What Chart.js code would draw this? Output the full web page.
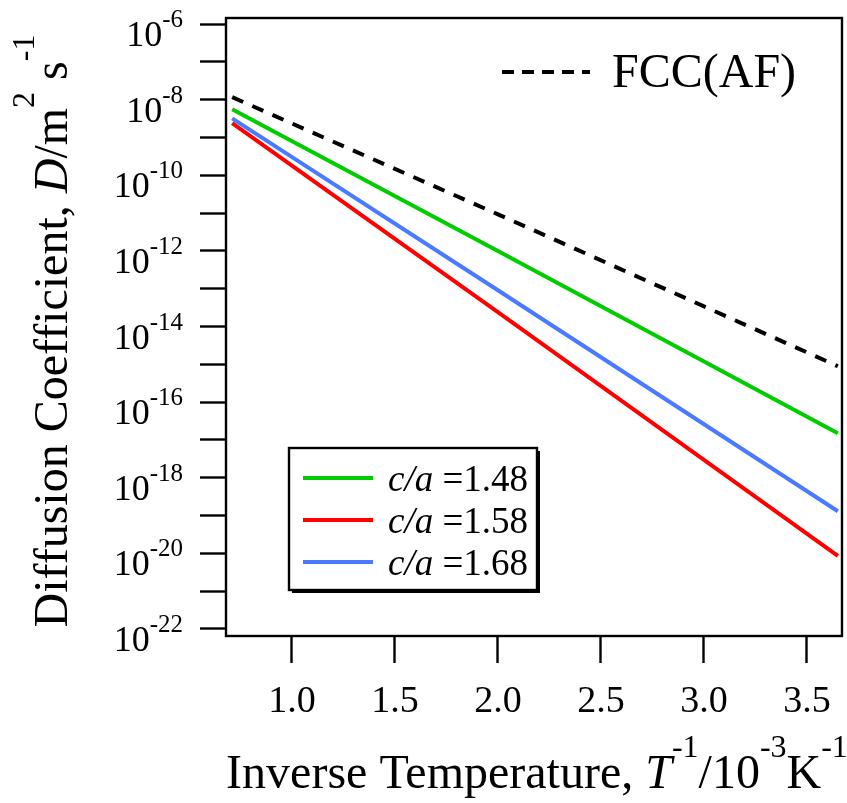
<!DOCTYPE html>
<html>
<head>
<meta charset="utf-8">
<script src="https://cdn.jsdelivr.net/npm/chart.js@4.4.0/dist/chart.umd.min.js"></script>
<style>
  body { margin: 0; background: #fff; }
  canvas { display: block; }
</style>
</head>
<body>
<canvas id="diffChart" width="847" height="803"></canvas>
<script>
// data (T^-1 in 10^-3 K^-1, D in m^2 s^-1)
const invTemp = [0.71, 2.0, 3.65];
const fccAF = [1.17e-8, 9.3e-12, 8.9e-16];
const ca148 = [5.6e-9, 1.0e-12, 1.5e-17];
const ca158 = [2.4e-9, 2.4e-14, 8.5e-21];
const ca168 = [3.2e-9, 9.1e-14, 1.3e-19];

const xTicks = [1.0, 1.5, 2.0, 2.5, 3.0, 3.5];
const yExponents = [-22, -21, -20, -19, -18, -17, -16, -15, -14, -13, -12, -11, -10, -9, -8, -7, -6];
const yLabelExponents = [-22, -20, -18, -16, -14, -12, -10, -8, -6];

const xMin = 0.68, xMax = 3.67;
const yMin = 6.5e-23, yMax = 1.45e-6;

const serif = '"Liberation Serif", "Times New Roman", serif';

function pts(vals) {
    return vals.map((v, i) => ({ x: invTemp[i], y: v }));
}

// draws a row of text pieces with different fonts / raise
function drawRuns(ctx, runs, x, y, align) {
    let total = 0;
    runs.forEach(r => { ctx.font = r.font; r.w = ctx.measureText(r.t).width; total += r.w; });
    let cx = x;
    if (align === 'center') cx = x - total / 2;
    if (align === 'right') cx = x - total;
    ctx.textAlign = 'left';
    ctx.textBaseline = 'alphabetic';
    runs.forEach(r => {
        ctx.font = r.font;
        ctx.fillText(r.t, cx, y - (r.dy || 0));
        cx += r.w;
    });
}

const decor = {
    id: 'decor',
    afterDraw(chart) {
        const { ctx, chartArea: a, scales } = chart;
        ctx.save();
        ctx.fillStyle = '#000';
        ctx.strokeStyle = '#000';

        // frame round the plot
        ctx.lineWidth = 2.4;
        ctx.strokeRect(a.left, a.top, a.right - a.left, a.bottom - a.top);

        // y tick labels 10^n
        const big = '36px ' + serif, small = '25px ' + serif;
        yLabelExponents.forEach(e => {
            const y = scales.y.getPixelForValue(Math.pow(10, e));
            drawRuns(ctx, [
                { t: '10', font: big },
                { t: String(e), font: small, dy: 19 }
            ], a.left - 43, y + 22, 'right');
        });

        // x title
        const tf = '48px ' + serif, ti = 'italic 48px ' + serif, ts = '32px ' + serif;
        drawRuns(ctx, [
            { t: 'Inverse Temperature, ', font: tf },
            { t: 'T', font: ti },
            { t: '-1', font: ts, dy: 31 },
            { t: '/10', font: tf },
            { t: '-3', font: ts, dy: 31 },
            { t: 'K', font: tf },
            { t: '-1', font: ts, dy: 31 }
        ], (a.left + a.right) / 2 + 3, a.bottom + 152, 'center');

        // y title, rotated
        ctx.save();
        ctx.translate(a.left - 159, (a.top + a.bottom) / 2 + 4);
        ctx.rotate(-Math.PI / 2);
        drawRuns(ctx, [
            { t: 'Diffusion Coefficient, ', font: tf },
            { t: 'D', font: ti },
            { t: '/m', font: tf },
            { t: '2', font: ts, dy: 33 },
            { t: ' s', font: tf },
            { t: '-1', font: ts, dy: 33 }
        ], 0, 0, 'center');
        ctx.restore();

        // FCC(AF) legend, top right
        const fcc = chart.data.datasets[0];
        ctx.lineWidth = 4;
        ctx.setLineDash([12, 8]);
        ctx.beginPath();
        ctx.moveTo(a.left + 276, a.top + 54);
        ctx.lineTo(a.left + 364, a.top + 54);
        ctx.stroke();
        ctx.setLineDash([]);
        ctx.font = '48px ' + serif;
        ctx.textAlign = 'left';
        ctx.fillText(fcc.label, a.left + 386, a.top + 69);

        // c/a legend box with shadow
        const bx = a.left + 63, by = a.top + 430, bw = 248, bh = 142;
        ctx.fillRect(bx + 3, by + 3, bw, bh);
        ctx.fillStyle = '#fff';
        ctx.fillRect(bx, by, bw, bh);
        ctx.lineWidth = 2.4;
        ctx.strokeRect(bx, by, bw, bh);
        chart.data.datasets.slice(1).forEach((ds, i) => {
            const ly = by + 30 + i * 42;
            ctx.strokeStyle = ds.borderColor;
            ctx.lineWidth = 4;
            ctx.beginPath();
            ctx.moveTo(bx + 14, ly);
            ctx.lineTo(bx + 84, ly);
            ctx.stroke();
            ctx.fillStyle = '#000';
            const parts = ds.label.split(' ');
            drawRuns(ctx, [
                { t: parts[0], font: 'italic 37px ' + serif },
                { t: ' ' + parts[1], font: '37px ' + serif }
            ], bx + 99, ly + 13, 'left');
        });
        ctx.restore();
    }
};

const ctx = document.getElementById('diffChart').getContext('2d');
const chart = new Chart(ctx, {
    type: 'line',
    data: {
        datasets: [
            { label: 'FCC(AF)', data: pts(fccAF), borderColor: '#000', borderWidth: 4, borderDash: [12, 10] },
            { label: 'c/a =1.48', data: pts(ca148), borderColor: 'rgb(0,204,0)', borderWidth: 4 },
            { label: 'c/a =1.58', data: pts(ca158), borderColor: 'rgb(255,0,0)', borderWidth: 4 },
            { label: 'c/a =1.68', data: pts(ca168), borderColor: 'rgb(74,122,255)', borderWidth: 4 }
        ]
    },
    options: {
        responsive: false,
        animation: false,
        layout: { padding: { top: 18, right: 5, left: 0, bottom: 0 } },
        elements: { point: { radius: 0 }, line: { tension: 0 } },
        scales: {
            x: {
                type: 'linear',
                min: xMin,
                max: xMax,
                afterBuildTicks: s => { s.ticks = xTicks.map(v => ({ value: v })); },
                afterFit: s => { s.height = 167; },
                border: { display: false },
                grid: { drawOnChartArea: false, drawTicks: true, tickLength: 27, tickWidth: 2.4, tickColor: '#000' },
                ticks: {
                    color: '#000',
                    padding: 16,
                    maxRotation: 0,
                    font: { family: serif, size: 38 },
                    callback: v => v.toFixed(1)
                }
            },
            y: {
                type: 'logarithmic',
                min: yMin,
                max: yMax,
                afterBuildTicks: s => { s.ticks = yExponents.map(e => ({ value: Math.pow(10, e) })); },
                afterFit: s => { s.width = 226; },
                border: { display: false },
                grid: { drawOnChartArea: false, drawTicks: true, tickLength: 26, tickWidth: 2.4, tickColor: '#000' },
                ticks: { callback: () => '' }
            }
        },
        plugins: {
            legend: { display: false },
            tooltip: { enabled: false }
        }
    },
    plugins: [decor]
});
</script>
</body>
</html>
